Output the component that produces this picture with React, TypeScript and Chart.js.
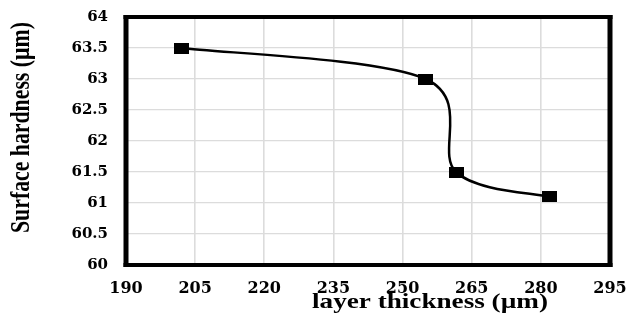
import React, { useEffect, useRef } from 'react';
import { Chart, registerables } from 'chart.js';

Chart.register(...registerables);

// ---- data ----
const layerThickness = [202, 255, 261.6, 281.8];
const surfaceHardness = [63.5, 63.0, 61.5, 61.1];
const xTickValues = [190, 205, 220, 235, 250, 265, 280, 295];
const yTickValues = [60, 60.5, 61, 61.5, 62, 62.5, 63, 63.5, 64];
const xTitle = 'layer thickness (µm)';
const yTitle = 'Surface hardness (µm)';

function makeMarker(): HTMLCanvasElement {
  const c = document.createElement('canvas');
  c.width = 15;
  c.height = 11;
  const g = c.getContext('2d')!;
  g.fillStyle = '#000';
  g.fillRect(0, 0, 15, 11);
  return c;
}

// Excel-like smoothing (Catmull-Rom control points from the library's own point positions)
const excelSmooth = {
  id: 'excelSmooth',
  beforeDatasetDraw(chart: any, args: any) {
    const meta = args.meta;
    const line = meta.dataset;
    const pts = meta.data;
    if (!line || !pts || !pts.length) return;
    line.updateControlPoints(chart.chartArea, 'x');
    for (let i = 0; i < pts.length; i++) {
      const p = pts[i];
      const a = pts[Math.max(0, i - 1)];
      const b = pts[Math.min(pts.length - 1, i + 1)];
      const dx = (b.x - a.x) / 6;
      const dy = (b.y - a.y) / 6;
      p.cp1x = p.x - dx;
      p.cp1y = p.y - dy;
      p.cp2x = p.x + dx;
      p.cp2y = p.y + dy;
    }
    line._path = undefined;
  },
};

const frameAndTitles = {
  id: 'frameAndTitles',
  afterDraw(chart: any) {
    const { ctx, chartArea: ca } = chart;
    ctx.save();
    ctx.fillStyle = '#000';
    const hw = 2.5; // vertical side half width
    const hh = 2; // horizontal side half width
    ctx.fillRect(ca.left - hw, ca.top - hh, ca.right - ca.left + 2 * hw, 2 * hh);
    ctx.fillRect(ca.left - hw, ca.bottom - hh, ca.right - ca.left + 2 * hw, 2 * hh);
    ctx.fillRect(ca.left - hw, ca.top - hh, 2 * hw, ca.bottom - ca.top + 2 * hh);
    ctx.fillRect(ca.right - hw, ca.top - hh, 2 * hw, ca.bottom - ca.top + 2 * hh);

    ctx.font = 'bold 22px "Liberation Serif"';
    ctx.textAlign = 'center';
    ctx.textBaseline = 'alphabetic';

    // x title (horizontally stretched like the reference)
    const xw = ctx.measureText(xTitle).width;
    ctx.save();
    ctx.translate(430, 307.5);
    ctx.scale(236 / xw, 1);
    ctx.fillText(xTitle, 0, 0);
    ctx.restore();

    // y title (rotated)
    const yw = ctx.measureText(yTitle).width;
    ctx.save();
    ctx.translate(29, 127.5);
    ctx.rotate(-Math.PI / 2);
    ctx.scale(211 / yw, 1.24);
    ctx.fillText(yTitle, 0, 0);
    ctx.restore();

    ctx.restore();
  },
};

export default function App() {
  const ref = useRef<HTMLCanvasElement>(null);

  useEffect(() => {
    document.body.style.margin = '0';
    const marker = makeMarker();
    const chart = new Chart(ref.current!, {
      type: 'line',
      data: {
        datasets: [
          {
            data: layerThickness.map((x, i) => ({ x, y: surfaceHardness[i] })),
            borderColor: '#000',
            borderWidth: 2.5,
            tension: 0.4,
            pointStyle: marker as any,
            pointRadius: 7,
            pointBackgroundColor: '#000',
            pointBorderColor: '#000',
            fill: false,
          },
        ],
      },
      options: {
        responsive: false,
        animation: false,
        layout: { padding: { top: 17, right: 21, left: 0, bottom: 0 } },
        plugins: {
          legend: { display: false },
          tooltip: { enabled: false },
        },
        scales: {
          x: {
            type: 'linear',
            min: 190,
            max: 295,
            afterBuildTicks: (s: any) => {
              s.ticks = xTickValues.map((v) => ({ value: v }));
            },
            afterFit: (s: any) => {
              s.height = 67;
              s.paddingLeft = 0;
              s.paddingRight = 0;
              s.paddingTop = 0;
              s.paddingBottom = 0;
            },
            grid: { color: '#dcdcdc', lineWidth: 1.6, drawTicks: false },
            border: { display: false },
            ticks: {
              padding: 14,
              color: '#000',
              font: { family: '"DejaVu Serif"', weight: 'bold', size: 16 },
              maxRotation: 0,
              autoSkip: false,
              callback: (v: any) => String(v),
            },
          },
          y: {
            type: 'linear',
            min: 60,
            max: 64,
            afterBuildTicks: (s: any) => {
              s.ticks = yTickValues.map((v) => ({ value: v }));
            },
            afterFit: (s: any) => {
              s.width = 126;
              s.paddingLeft = 0;
              s.paddingRight = 0;
              s.paddingTop = 0;
              s.paddingBottom = 0;
            },
            grid: { color: '#dcdcdc', lineWidth: 1.2, drawTicks: false },
            border: { display: false },
            ticks: {
              padding: 18,
              color: '#000',
              font: { family: '"DejaVu Serif"', weight: 'bold', size: 15 },
              autoSkip: false,
              callback: (v: any) => String(v),
            },
          },
        },
      },
      plugins: [excelSmooth, frameAndTitles],
    });
    return () => chart.destroy();
  }, []);

  return (
    <div style={{ position: 'absolute', left: 0, top: 0, width: 631, height: 332, background: '#fff' }}>
      <canvas ref={ref} width={631} height={332} />
    </div>
  );
}
